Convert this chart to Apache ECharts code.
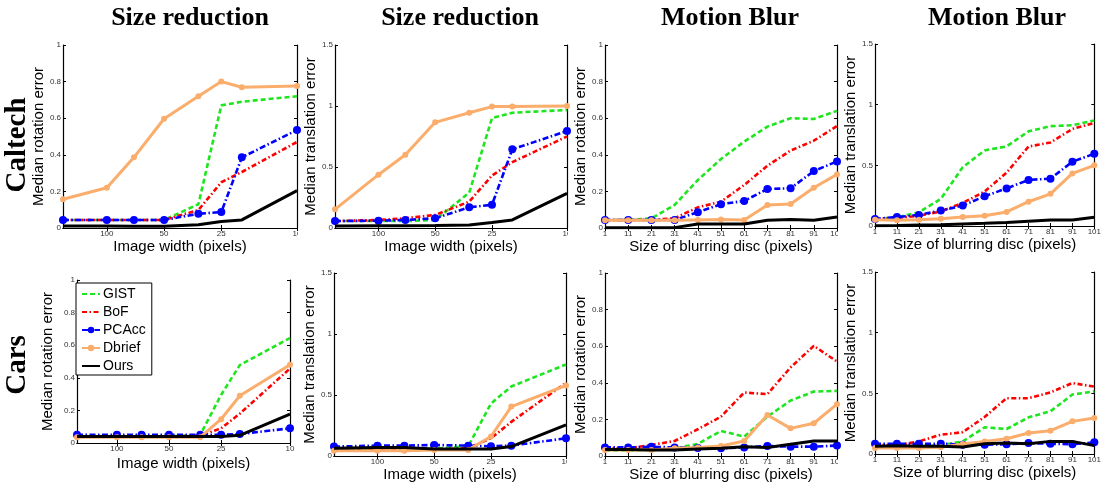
<!DOCTYPE html>
<html>
<head>
<meta charset="utf-8">
<script src="https://cdn.jsdelivr.net/npm/echarts@6/dist/echarts.min.js"></script>
<style>
html,body{margin:0;padding:0;background:#fff;}
#chart{width:1104px;height:488px;}
</style>
</head>
<body>
<div id="chart"></div>
<script>
// ---------- data ----------
const methods = ['GIST', 'BoF', 'PCAcc', 'Dbrief', 'Ours'];
const colTitles = ['Size reduction', 'Size reduction', 'Motion Blur', 'Motion Blur'];
const rowTitles = ['Caltech', 'Cars'];
const sizeWidths = [170, 100, 72, 50, 33, 25, 19.5, 10];      // image width (pixels)
const sizeTickLabels = [100, 50, 25, 10];
const blurSizes = [1, 11, 21, 31, 41, 51, 61, 71, 81, 91, 101]; // blurring disc size

// rows: GIST, BoF, PCAcc, Dbrief, Ours
const calSizeRot = [
  [0.044, 0.044, 0.044, 0.044, 0.13, 0.67, 0.69, 0.72],
  [0.044, 0.044, 0.044, 0.044, 0.098, 0.25, 0.306, 0.47],
  [0.044, 0.044, 0.044, 0.044, 0.078, 0.087, 0.386, 0.535],
  [0.157, 0.22, 0.386, 0.597, 0.72, 0.80, 0.769, 0.776],
  [0.011, 0.011, 0.01, 0.009, 0.018, 0.035, 0.044, 0.204]
];
const calSizeTrans = [
  [0.057, 0.057, 0.057, 0.065, 0.29, 0.90, 0.945, 0.967],
  [0.057, 0.065, 0.08, 0.107, 0.216, 0.43, 0.54, 0.75],
  [0.057, 0.06, 0.066, 0.08, 0.17, 0.19, 0.645, 0.795],
  [0.153, 0.437, 0.60, 0.866, 0.945, 0.995, 0.995, 1.0],
  [0.016, 0.018, 0.018, 0.02, 0.025, 0.046, 0.066, 0.284]
];
const calBlurRot = [
  [0.044, 0.044, 0.053, 0.126, 0.262, 0.377, 0.472, 0.554, 0.60, 0.596, 0.64],
  [0.044, 0.044, 0.044, 0.053, 0.113, 0.144, 0.235, 0.34, 0.423, 0.477, 0.557],
  [0.044, 0.044, 0.044, 0.044, 0.086, 0.13, 0.148, 0.213, 0.217, 0.311, 0.364],
  [0.042, 0.042, 0.042, 0.042, 0.044, 0.046, 0.044, 0.126, 0.131, 0.22, 0.293],
  [0.002, 0.002, 0.002, 0.002, 0.022, 0.022, 0.022, 0.042, 0.046, 0.042, 0.06]
];
const calBlurTrans = [
  [0.058, 0.072, 0.113, 0.223, 0.485, 0.623, 0.656, 0.78, 0.823, 0.83, 0.87],
  [0.058, 0.065, 0.085, 0.12, 0.19, 0.284, 0.44, 0.655, 0.688, 0.80, 0.85],
  [0.058, 0.074, 0.091, 0.127, 0.168, 0.245, 0.31, 0.38, 0.39, 0.53, 0.595],
  [0.052, 0.047, 0.052, 0.06, 0.074, 0.085, 0.116, 0.2, 0.265, 0.433, 0.50],
  [0.003, 0.005, 0.008, 0.01, 0.017, 0.022, 0.028, 0.039, 0.05, 0.05, 0.072]
];
const carSizeRot = [
  [0.04, 0.04, 0.04, 0.04, 0.05, 0.295, 0.478, 0.644],
  [0.04, 0.04, 0.04, 0.04, 0.045, 0.09, 0.18, 0.457],
  [0.05, 0.05, 0.05, 0.05, 0.05, 0.05, 0.055, 0.09],
  [0.036, 0.036, 0.036, 0.036, 0.036, 0.146, 0.29, 0.48],
  [0.04, 0.04, 0.04, 0.04, 0.04, 0.04, 0.047, 0.177]
];
const carSizeTrans = [
  [0.055, 0.055, 0.055, 0.06, 0.08, 0.43, 0.57, 0.75],
  [0.05, 0.05, 0.05, 0.055, 0.063, 0.145, 0.28, 0.60],
  [0.077, 0.085, 0.085, 0.09, 0.085, 0.08, 0.085, 0.145],
  [0.044, 0.044, 0.044, 0.05, 0.05, 0.16, 0.405, 0.578],
  [0.063, 0.07, 0.07, 0.057, 0.057, 0.057, 0.077, 0.255]
];
const carBlurRot = [
  [0.03, 0.03, 0.033, 0.042, 0.066, 0.137, 0.106, 0.215, 0.303, 0.352, 0.356],
  [0.042, 0.042, 0.06, 0.082, 0.146, 0.215, 0.347, 0.338, 0.484, 0.602, 0.516],
  [0.047, 0.047, 0.05, 0.047, 0.044, 0.042, 0.047, 0.055, 0.051, 0.051, 0.057],
  [0.033, 0.033, 0.033, 0.042, 0.047, 0.055, 0.082, 0.224, 0.151, 0.179, 0.283],
  [0.036, 0.036, 0.033, 0.033, 0.038, 0.042, 0.051, 0.047, 0.064, 0.082, 0.082]
];
const carBlurTrans = [
  [0.058, 0.058, 0.063, 0.071, 0.104, 0.22, 0.206, 0.302, 0.352, 0.49, 0.516],
  [0.077, 0.071, 0.104, 0.159, 0.18, 0.305, 0.46, 0.46, 0.508, 0.585, 0.555],
  [0.085, 0.085, 0.085, 0.085, 0.077, 0.077, 0.08, 0.09, 0.085, 0.08, 0.096],
  [0.05, 0.05, 0.05, 0.055, 0.082, 0.104, 0.126, 0.173, 0.192, 0.269, 0.297],
  [0.063, 0.069, 0.063, 0.063, 0.058, 0.085, 0.09, 0.085, 0.104, 0.104, 0.069]
];

// ---------- layout / style ----------
const SANS = '"Liberation Sans", Arial, sans-serif';
const SERIF = '"Liberation Serif", "Times New Roman", serif';

const styles = {
  GIST:   { color: '#1ee61e', type: [5, 3], width: 2.6, symbol: 'none', size: 0 },
  BoF:    { color: '#ff0000', type: [5, 2.5, 1.5, 2.5], width: 2.6, symbol: 'none', size: 0 },
  PCAcc:  { color: '#0000ff', type: [6, 2.5, 1.5, 2.5], width: 2.6, symbol: 'circle', size: 8 },
  Dbrief: { color: '#fbad6c', type: 'solid', width: 3, symbol: 'circle', size: 6 },
  Ours:   { color: '#000000', type: 'solid', width: 3, symbol: 'none', size: 0 }
};

const panels = [
  { kind: 'size', metric: 'rot',   data: calSizeRot,   grid: { left: 63,  top: 45,  width: 234, height: 183 }, yGap: 15, xGap: 10, clipLabel: true },
  { kind: 'size', metric: 'trans', data: calSizeTrans, grid: { left: 335, top: 45,  width: 232, height: 183 }, yGap: 13, xGap: 10, clipLabel: true },
  { kind: 'blur', metric: 'rot',   data: calBlurRot,   grid: { left: 605, top: 45,  width: 232, height: 183 }, yGap: 13, xGap: 10, clipLabel: true },
  { kind: 'blur', metric: 'trans', data: calBlurTrans, grid: { left: 875, top: 44,  width: 232, height: 182 }, yGap: 13, xGap: 10, clipLabel: false },
  { kind: 'size', metric: 'rot',   data: carSizeRot,   grid: { left: 77,  top: 280, width: 213, height: 163 }, yGap: 22, xGap: 13, clipLabel: false },
  { kind: 'size', metric: 'trans', data: carSizeTrans, grid: { left: 334, top: 273, width: 232, height: 183 }, yGap: 13, xGap: 11, clipLabel: true },
  { kind: 'blur', metric: 'rot',   data: carBlurRot,   grid: { left: 605, top: 273, width: 232, height: 183 }, yGap: 13, xGap: 11, clipLabel: true },
  { kind: 'blur', metric: 'trans', data: carBlurTrans, grid: { left: 875, top: 272, width: 232, height: 182 }, yGap: 13, xGap: 11, clipLabel: false }
];

const grids = [], xAxes = [], yAxes = [], series = [], covers = [];
const tickStyle = { show: true, inside: true, length: 3, lineStyle: { color: '#000', width: 1 } };
const lineStyleAx = { show: true, lineStyle: { color: '#000', width: 1.2 } };
const labelFont = { fontFamily: SANS, fontSize: 8, color: '#333' };

panels.forEach((p, i) => {
  grids.push(Object.assign({ containLabel: false }, p.grid));
  const isSize = p.kind === 'size';
  const xBase = isSize
    ? { type: 'log', logBase: 10, min: 10, max: 170, inverse: true }
    : { type: 'value', min: 1, max: 101, interval: 10 };
  const xTick = Object.assign({}, tickStyle, isSize ? { customValues: sizeTickLabels } : {});
  xAxes.push(Object.assign({}, xBase, {
    gridIndex: i, position: 'bottom',
    name: isSize ? 'Image width (pixels)' : 'Size of blurring disc (pixels)',
    nameLocation: 'middle', nameGap: p.xGap,
    nameTextStyle: { fontFamily: SANS, fontSize: 15, color: '#000', verticalAlign: 'top' },
    axisLine: lineStyleAx, axisTick: xTick, splitLine: { show: false }, minorTick: { show: false },
    axisLabel: Object.assign({ margin: 2, fontSize: isSize ? 8 : 7.5, showMinLabel: true, showMaxLabel: true },
      labelFont, isSize ? { customValues: sizeTickLabels } : {})
  }));
  xAxes.push(Object.assign({}, xBase, {
    gridIndex: i, position: 'top',
    axisLine: lineStyleAx, axisTick: xTick, axisLabel: { show: false }, splitLine: { show: false }
  }));
  const yMax = p.metric === 'rot' ? 1 : 1.5;
  const yInt = p.metric === 'rot' ? 0.2 : 0.5;
  yAxes.push({
    type: 'value', gridIndex: i, position: 'left', min: 0, max: yMax, interval: yInt,
    name: p.metric === 'rot' ? 'Median rotation error' : 'Median translation error',
    nameLocation: 'middle', nameGap: p.yGap, nameRotate: 90,
    nameTextStyle: { fontFamily: SANS, fontSize: 15, color: '#000', verticalAlign: 'bottom' },
    axisLine: lineStyleAx, axisTick: tickStyle, splitLine: { show: false },
    axisLabel: Object.assign({ margin: 2 }, labelFont)
  });
  yAxes.push({
    type: 'value', gridIndex: i, position: 'right', min: 0, max: yMax, interval: yInt,
    axisLine: lineStyleAx, axisTick: tickStyle, axisLabel: { show: false }, splitLine: { show: false }
  });
  const xs = isSize ? sizeWidths : blurSizes;
  methods.forEach((m, k) => {
    const st = styles[m];
    series.push({
      type: 'line', name: m, xAxisIndex: 2 * i, yAxisIndex: 2 * i,
      data: xs.map((x, j) => [x, p.data[k][j]]),
      symbol: st.symbol, symbolSize: st.size, showSymbol: st.symbol !== 'none',
      itemStyle: { color: st.color },
      lineStyle: { color: st.color, width: st.width, type: st.type, cap: 'butt' },
      animation: false, silent: true, z: 2 + k
    });
  });
  // the original sub-figures were cropped right at the plot frame, cutting the last x label
  if (p.clipLabel) {
    const g = p.grid;
    covers.push({ type: 'rect', z: 100, silent: true,
      shape: { x: g.left + g.width + 1, y: g.top + g.height + 1, width: 9, height: 11 },
      style: { fill: '#fff' } });
  }
});

const titles = [185, 455, 725, 992].map((x, i) => ({
  text: colTitles[i], left: x, top: 0, textAlign: 'center',
  textStyle: { fontFamily: SERIF, fontSize: 26, fontWeight: 'bold', color: '#000' }
}));

const legendData = methods.map(m => {
  const st = styles[m];
  return st.symbol === 'none' ? { name: m, itemStyle: { opacity: 0 } } : { name: m };
});

const option = {
  backgroundColor: '#fff',
  animation: false,
  title: titles,
  legend: {
    data: legendData, orient: 'vertical', left: 76, top: 283,
    padding: [4, 6, 2, 5], itemGap: 4, itemWidth: 18, itemHeight: 8,
    backgroundColor: '#fff', borderColor: '#000', borderWidth: 1, borderRadius: 0,
    textStyle: { fontFamily: SANS, fontSize: 14, color: '#000', lineHeight: 14, padding: [0, 0, 0, -2] },
    selectedMode: false
  },
  grid: grids,
  xAxis: xAxes,
  yAxis: yAxes,
  series: series,
  graphic: covers.concat([
    { type: 'text', x: 18, y: 145, rotation: Math.PI / 2,
      style: { text: rowTitles[0], font: 'bold 29px ' + SERIF, fill: '#000', align: 'center', verticalAlign: 'middle' } },
    { type: 'text', x: 18, y: 365, rotation: Math.PI / 2,
      style: { text: rowTitles[1], font: 'bold 29px ' + SERIF, fill: '#000', align: 'center', verticalAlign: 'middle' } }
  ])
};

const chart = echarts.init(document.getElementById('chart'), null, { renderer: 'canvas' });
chart.setOption(option);
</script>
</body>
</html>
